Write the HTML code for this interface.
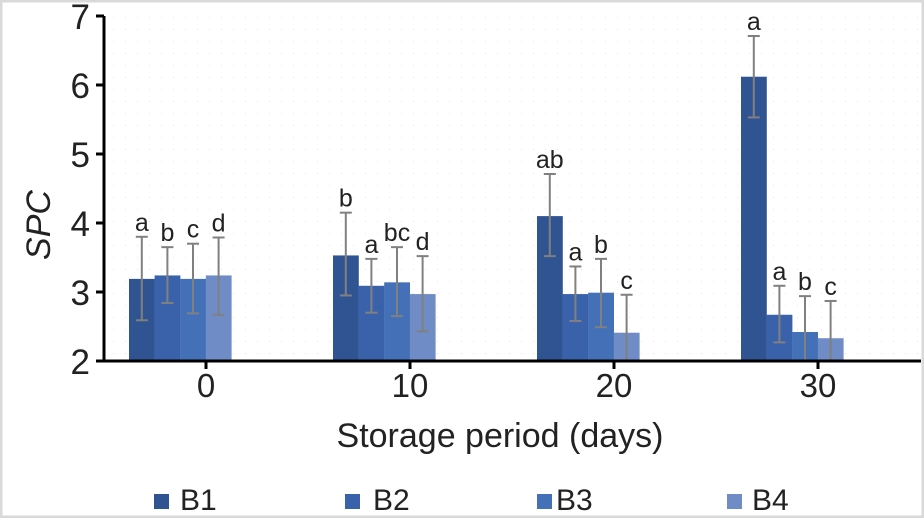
<!DOCTYPE html>
<html><head><meta charset="utf-8"><style>
html,body{margin:0;padding:0;background:#fff}
svg{display:block}
text{font-family:"Liberation Sans",sans-serif;fill:#222}
</style></head><body>
<svg id="s" width="924" height="518" xmlns="http://www.w3.org/2000/svg">
<defs><pattern id="dots" width="12" height="12" patternUnits="userSpaceOnUse"><rect x="5" y="5" width="1" height="1" fill="#e4e4e4"/></pattern></defs>
<rect x="0" y="0" width="924" height="518" fill="#fff"/>
<rect x="105" y="15" width="815" height="345" fill="url(#dots)"/>
<rect x="1" y="1" width="922" height="516" fill="none" stroke="#d9d9d9" stroke-width="3"/>
<g id="g"></g>
<line x1="104" y1="16" x2="104" y2="362" stroke="#000" stroke-width="3"/>
<line x1="103" y1="361" x2="921" y2="361" stroke="#000" stroke-width="3"/>
<text transform="translate(50,225) rotate(-90)" text-anchor="middle" font-size="34" font-style="italic">SPC</text>
<text x="500" y="447" text-anchor="middle" font-size="34">Storage period (days)</text>
<rect x="154" y="494" width="15" height="15" fill="#2f5491"/><text x="180" y="510" font-size="30">B1</text>
<rect x="345" y="494" width="15" height="15" fill="#3a62ab"/><text x="373" y="510" font-size="30">B2</text>
<rect x="537" y="494" width="15" height="15" fill="#4470b8"/><text x="556" y="510" font-size="30">B3</text>
<rect x="727" y="494" width="15" height="15" fill="#6f8cc6"/><text x="752" y="510" font-size="30">B4</text>
</svg>
<script>
var g=document.getElementById('g'),h='';
function Y(v){return 361-(v-2)*69;}
for(var v=2;v<=7;v++){h+='<line x1="96" y1="'+Y(v)+'" x2="104" y2="'+Y(v)+'" stroke="#000" stroke-width="3"/>';
h+='<text x="90" y="'+(Y(v)+13)+'" text-anchor="end" font-size="35">'+v+'</text>';}
var cols=['#2f5491','#3a62ab','#4470b8','#6f8cc6'];
var data=[
[[3.19,3.8,2.59,'a'],[3.24,3.65,2.84,'b'],[3.19,3.7,2.69,'c'],[3.24,3.79,2.67,'d']],
[[3.53,4.15,2.95,'b'],[3.09,3.48,2.7,'a'],[3.14,3.65,2.65,'bc'],[2.97,3.52,2.43,'d']],
[[4.1,4.71,3.52,'ab'],[2.97,3.37,2.58,'a'],[2.99,3.48,2.49,'b'],[2.41,2.96,2,'c']],
[[6.12,6.71,5.53,'a'],[2.67,3.09,2.27,'a'],[2.42,2.94,2,'b'],[2.33,2.87,2,'c']]];
var labs=['0','10','20','30'];
for(var k=0;k<4;k++){var c=206+k*204;
h+='<line x1="'+c+'" y1="361" x2="'+c+'" y2="369" stroke="#000" stroke-width="3"/>';
h+='<text x="'+c+'" y="397" text-anchor="middle" font-size="33">'+labs[k]+'</text>';
for(var i=0;i<4;i++){var d=data[k][i],x=c-77+i*25.6;
h+='<rect x="'+x+'" y="'+Y(d[0])+'" width="25.8" height="'+(361-Y(d[0]))+'" fill="'+cols[i]+'"/>';}
for(var i=0;i<4;i++){var d=data[k][i],x=c-77+i*25.6,m=x+12.8;
h+='<line x1="'+m+'" y1="'+Y(d[1])+'" x2="'+m+'" y2="'+Y(d[2])+'" stroke="#808080" stroke-width="2"/>';
h+='<line x1="'+(m-6)+'" y1="'+Y(d[1])+'" x2="'+(m+6)+'" y2="'+Y(d[1])+'" stroke="#808080" stroke-width="2"/>';
if(d[2]>2)h+='<line x1="'+(m-6)+'" y1="'+Y(d[2])+'" x2="'+(m+6)+'" y2="'+Y(d[2])+'" stroke="#808080" stroke-width="2"/>';
h+='<text x="'+m+'" y="'+(Y(d[1])-6)+'" text-anchor="middle" font-size="25">'+d[3]+'</text>';}}
g.innerHTML=h;
</script>
</body></html>
